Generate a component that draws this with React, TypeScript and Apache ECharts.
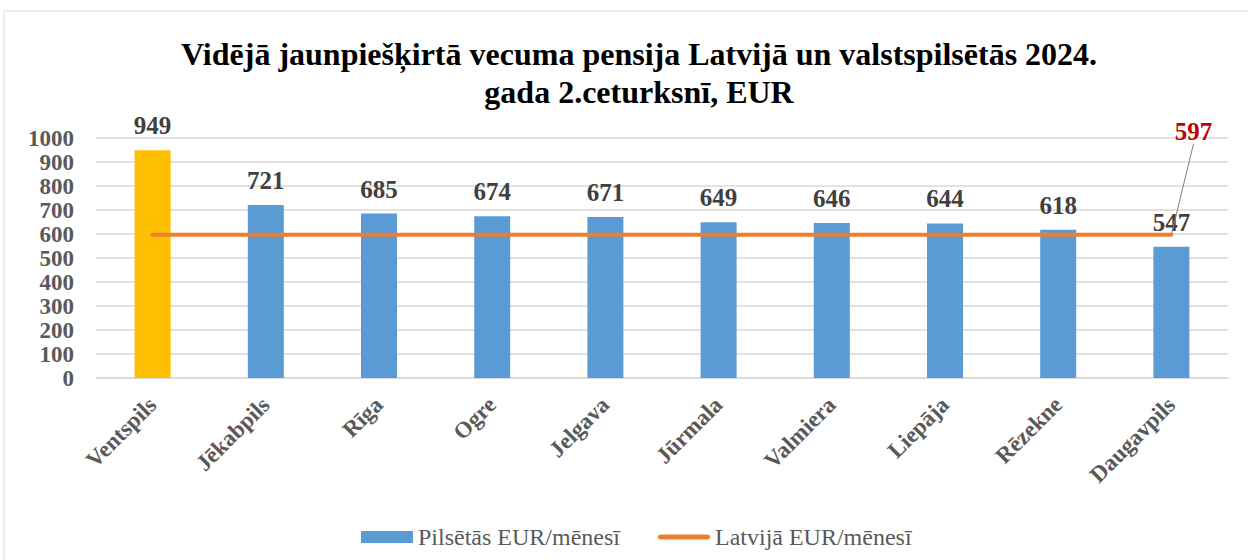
import React, { useEffect, useRef } from "react";
import * as echarts from "echarts";

const cities = ["Ventspils", "Jēkabpils", "Rīga", "Ogre", "Jelgava", "Jūrmala", "Valmiera", "Liepāja", "Rēzekne", "Daugavpils"];
const cityValues = [949, 721, 685, 674, 671, 649, 646, 644, 618, 547];
const latviaValues = [597, 597, 597, 597, 597, 597, 597, 597, 597, 597];
const highlightIndex = 0;
const titleText = "Vidējā jaunpiešķirtā vecuma pensija Latvijā un valstspilsētās 2024.\ngada 2.ceturksnī, EUR";
const barName = "Pilsētās EUR/mēnesī";
const lineName = "Latvijā EUR/mēnesī";

const SERIF = "Liberation Serif";

export default function App() {
  const ref = useRef<HTMLDivElement>(null);
  useEffect(() => {
    document.body.style.margin = "0";
    const chart = echarts.init(ref.current!, null, { renderer: "svg" });
    const last = latviaValues.length - 1;
    chart.setOption({
      animation: false,
      backgroundColor: "#ffffff",
      textStyle: { fontFamily: SERIF },
      title: {
        text: titleText,
        left: 634,
        top: 30,
        textAlign: "center",
        textStyle: { fontFamily: SERIF, fontWeight: "bold", fontSize: 32, color: "#000000", lineHeight: 38 },
      },
      graphic: [
        {
          type: "rect",
          shape: { x: 4, y: 11, width: 1260, height: 580 },
          style: { fill: "none", stroke: "#d9d9d9", lineWidth: 1 },
          silent: true,
        },
      ],
      legend: {
        left: 356,
        top: 520,
        itemGap: 38,
        itemWidth: 52,
        itemHeight: 12,
        textStyle: { fontFamily: SERIF, fontSize: 24, color: "#595959" },
        data: [
          { name: barName, icon: "rect", itemStyle: { color: "#5B9BD5" } },
          {
            name: lineName,
            icon: "path://M2.5,0 L49.5,0 A2.5,2.5 0 0 1 49.5,5 L2.5,5 A2.5,2.5 0 0 1 2.5,0 Z",
            itemStyle: { color: "#ED7D31" },
          },
        ],
      },
      grid: { left: 96, right: 20, top: 138, bottom: 182 },
      xAxis: {
        type: "category",
        data: cities,
        axisLine: { lineStyle: { color: "#d9d9d9", width: 1.5 } },
        axisTick: { show: false },
        axisLabel: {
          rotate: 45,
          margin: 23,
          fontFamily: SERIF,
          fontWeight: "bold",
          fontSize: 23,
          color: "#595959",
          interval: 0,
        },
      },
      yAxis: {
        type: "value",
        min: 0,
        max: 1000,
        interval: 100,
        axisLine: { show: false },
        axisTick: { show: false },
        splitLine: { lineStyle: { color: "#d9d9d9", width: 1.5 } },
        axisLabel: {
          margin: 22,
          fontFamily: SERIF,
          fontWeight: "bold",
          fontSize: 23,
          color: "#595959",
          formatter: (v: number) => String(v),
        },
      },
      series: [
        {
          name: barName,
          type: "bar",
          barWidth: 36,
          itemStyle: { color: "#5B9BD5" },
          data: cityValues.map((v, i) =>
            i === highlightIndex ? { value: v, itemStyle: { color: "#FFC000" } } : v
          ),
          label: {
            show: true,
            position: "top",
            distance: 12,
            fontFamily: SERIF,
            fontWeight: "bold",
            fontSize: 25,
            color: "#404040",
          },
          z: 2,
        },
        {
          name: lineName,
          type: "line",
          symbol: "circle",
          symbolSize: 1,
          showSymbol: true,
          lineStyle: { color: "#ED7D31", width: 4, cap: "round" },
          itemStyle: { color: "#ED7D31" },
          data: latviaValues.map((v, i) =>
            i === last
              ? {
                  value: v,
                  label: {
                    show: true,
                    position: "top",
                    fontFamily: SERIF,
                    fontWeight: "bold",
                    fontSize: 25,
                    color: "#C00000",
                  },
                  labelLine: { show: true, lineStyle: { color: "#808080", width: 1 } },
                }
              : v
          ),
          label: { show: false },
          labelLine: { show: false },
          labelLayout: (p: any) => (p.dataIndex === last ? { dx: 22, dy: -85 } : {}),
          z: 3,
        },
      ],
    });
    return () => chart.dispose();
  }, []);
  return <div ref={ref} style={{ width: 1248, height: 560 }} />;
}
